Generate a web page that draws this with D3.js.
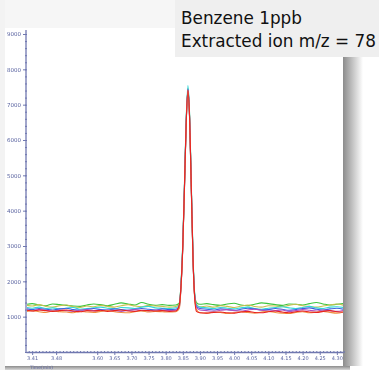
<!DOCTYPE html>
<html>
<head>
<meta charset="utf-8">
<script src="https://cdn.jsdelivr.net/npm/d3@7"></script>
<style>
  body { margin: 0; background: #ffffff; }
  #chart { width: 379px; height: 370px; overflow: hidden; }
</style>
</head>
<body>
<div id="chart"></div>
<script>
// retention time (min), shared by all traces
const timeValues = [3.395,3.41,3.43,3.45,3.47,3.49,3.51,3.53,3.55,3.57,3.59,3.61,3.63,3.65,3.67,3.69,3.71,3.73,3.75,3.77,3.79,3.81,
    3.83,3.84,3.845,3.85,3.855,3.86,3.865,3.87,3.875,3.88,3.885,3.89,
    3.90,3.92,3.94,3.96,3.98,4.00,4.02,4.04,4.06,4.08,4.10,4.12,4.14,4.16,4.18,4.20,4.22,4.24,4.26,4.28,4.30,4.32];

// abundance of m/z 78 for each replicate injection
const seriesGreen = [1350,1370,1330,1310,1360,1340,1320,1300,1290,1330,1360,1340,1310,1350,1390,1360,1330,1400,1350,1320,1340,1320,
    1330,1390,1960,3060,4760,6560,7460,6660,4660,2660,1610,1400,
    1350,1370,1340,1320,1360,1380,1330,1310,1350,1390,1370,1340,1320,1360,1350,1330,1370,1400,1360,1330,1350,1370];
const seriesOlive = [1320,1300,1340,1290,1270,1310,1330,1280,1260,1300,1280,1320,1290,1270,1310,1340,1300,1280,1320,1300,1290,1270,
    1290,1370,1930,3020,4720,6520,7420,6620,4620,2620,1580,1350,
    1280,1300,1270,1310,1290,1260,1300,1330,1290,1270,1310,1300,1280,1320,1350,1310,1290,1270,1300,1330,1360,1320];
const seriesCyan = [1260,1240,1270,1230,1250,1220,1240,1260,1210,1230,1250,1270,1240,1220,1260,1250,1230,1270,1290,1250,1240,1230,
    1250,1340,1980,3100,4800,6620,7540,6700,4700,2700,1620,1330,
    1270,1250,1230,1260,1240,1220,1250,1270,1230,1210,1240,1260,1280,1250,1230,1260,1290,1250,1230,1270,1280,1260];
const seriesBlue = [1220,1200,1230,1210,1190,1220,1240,1200,1180,1210,1230,1200,1190,1220,1200,1180,1210,1230,1210,1190,1220,1200,
    1210,1300,1900,3000,4700,6500,7440,6600,4600,2600,1560,1290,
    1230,1210,1190,1220,1200,1180,1210,1240,1220,1190,1200,1230,1210,1180,1200,1230,1250,1210,1190,1220,1240,1210];
const seriesPurple = [1190,1170,1200,1180,1160,1190,1170,1150,1180,1200,1170,1160,1190,1170,1150,1180,1200,1170,1160,1190,1180,1170,
    1180,1280,1880,2980,4680,6480,7430,6580,4580,2580,1540,1260,
    1190,1170,1150,1180,1200,1170,1160,1190,1210,1180,1160,1170,1190,1150,1170,1200,1180,1160,1190,1170,1150,1180];
const seriesOrange = [1150,1170,1140,1120,1160,1140,1130,1110,1150,1130,1120,1150,1170,1140,1120,1110,1140,1160,1130,1150,1140,1130,
    1140,1240,1850,2950,4650,6450,7400,6560,4560,2560,1500,1200,
    1110,1100,1130,1120,1090,1110,1140,1120,1100,1130,1150,1120,1100,1090,1120,1140,1110,1130,1150,1120,1100,1130];
const seriesRed = [1180,1160,1190,1170,1150,1170,1190,1160,1140,1170,1160,1180,1150,1170,1190,1160,1150,1180,1170,1160,1170,1150,
    1160,1350,1900,3000,4700,6500,7410,6600,4600,2600,1500,1150,
    1110,1100,1120,1130,1110,1100,1130,1150,1120,1110,1140,1160,1130,1110,1140,1160,1130,1120,1150,1170,1140,1130];

const seriesColors = ["#3cc43c", "#c8c050", "#30d8d8", "#4060e0", "#b050c0", "#f09040", "#e82020"];

// axis ticks
const xTickValues = [3.41,3.48,3.60,3.65,3.70,3.75,3.80,3.85,3.90,3.95,4.00,4.05,4.10,4.15,4.20,4.25,4.30];
const yTickValues = [1000,2000,3000,4000,5000,6000,7000,8000,9000];

const titleLines = ["Benzene 1ppb", "Extracted ion m/z = 78"];

class ChromVis {
    constructor(parentElement) {
        this.parentElement = parentElement;
        this.series = [seriesGreen, seriesOlive, seriesCyan, seriesBlue, seriesPurple, seriesOrange, seriesRed];
        this.initVis();
    }

    initVis() {
        let vis = this;

        vis.width = 379;
        vis.height = 370;
        vis.plot = {left: 26, right: 343, top: 34, bottom: 352};

        vis.svg = d3.select("#" + vis.parentElement).append("svg")
            .attr("width", vis.width)
            .attr("height", vis.height);

        let defs = vis.svg.append("defs");
        let shade = defs.append("linearGradient").attr("id", "shadeRight");
        shade.append("stop").attr("offset", "0%").attr("stop-color", "#8c8c8c");
        shade.append("stop").attr("offset", "100%").attr("stop-color", "#ffffff");
        let shadeB = defs.append("linearGradient").attr("id", "shadeBottom")
            .attr("x1", 0).attr("x2", 0).attr("y1", 0).attr("y2", 1);
        shadeB.append("stop").attr("offset", "0%").attr("stop-color", "#8c8c8c");
        shadeB.append("stop").attr("offset", "100%").attr("stop-color", "#d8d8d8");
        defs.append("filter").attr("id", "soft")
            .append("feGaussianBlur").attr("stdDeviation", 0.45);
        defs.append("clipPath").attr("id", "plotClip")
            .append("rect")
            .attr("x", vis.plot.left).attr("y", 0)
            .attr("width", vis.plot.right - vis.plot.left)
            .attr("height", vis.plot.bottom);

        // page + panel
        vis.svg.append("rect").attr("width", vis.width).attr("height", 30).attr("fill", "#f6f6f6");
        vis.svg.append("rect").attr("x", 0).attr("y", 0).attr("width", 5).attr("height", vis.height).attr("fill", "#f3f3f3");
        vis.svg.append("rect").attr("x", 343).attr("y", 28).attr("width", 20).attr("height", 338).attr("fill", "url(#shadeRight)");
        vis.svg.append("rect").attr("x", 5).attr("y", 366).attr("width", 345).attr("height", 4).attr("fill", "url(#shadeBottom)");
        vis.svg.append("rect").attr("x", 5).attr("y", 28).attr("width", 338).attr("height", 338).attr("fill", "#ffffff");

        vis.x = d3.scaleLinear().domain([3.392, 4.318]).range([vis.plot.left, vis.plot.right]);
        vis.y = d3.scaleLinear().domain([0, 9000]).range([vis.plot.bottom, vis.plot.top]);

        vis.g = vis.svg.append("g").attr("filter", "url(#soft)");

        vis.updateVis();
    }

    updateVis() {
        let vis = this;
        let axisColor = "#7078b0";

        // minor ticks
        vis.g.append("g")
            .attr("transform", `translate(${vis.plot.left},0)`)
            .call(d3.axisLeft(vis.y).tickValues(d3.range(0, 9200, 200)).tickSize(2).tickSizeOuter(0).tickFormat(""))
            .call(g => g.select(".domain").remove())
            .call(g => g.selectAll("line").attr("stroke", axisColor).attr("transform", "translate(1,0)"));
        vis.g.append("g")
            .attr("transform", `translate(0,${vis.plot.bottom})`)
            .call(d3.axisBottom(vis.x).tickValues(d3.range(3.40, 4.32, 0.01)).tickSize(2).tickSizeOuter(0).tickFormat(""))
            .call(g => g.select(".domain").remove())
            .call(g => g.selectAll("line").attr("stroke", axisColor).attr("transform", "translate(0,-1)"));

        // y axis
        vis.g.append("g")
            .attr("transform", `translate(${vis.plot.left},0)`)
            .call(d3.axisLeft(vis.y).tickValues(yTickValues).tickSize(3).tickPadding(2).tickSizeOuter(0).tickFormat(d3.format("d")))
            .call(g => g.select(".domain").attr("stroke", axisColor).attr("stroke-width", 1.3)
                .attr("d", `M0,30V${vis.plot.bottom}`))
            .call(g => g.selectAll("line").attr("stroke", axisColor))
            .call(g => g.selectAll("text").attr("fill", "#5a64a0").style("font-family", "DejaVu Sans").style("font-size", "5.5px"));

        // x axis
        vis.g.append("g")
            .attr("transform", `translate(0,${vis.plot.bottom})`)
            .call(d3.axisBottom(vis.x).tickValues(xTickValues).tickSize(3).tickPadding(1).tickSizeOuter(0).tickFormat(d3.format(".2f")))
            .call(g => g.select(".domain").attr("stroke", axisColor).attr("stroke-width", 1.3))
            .call(g => g.selectAll("line").attr("stroke", axisColor))
            .call(g => g.selectAll("text").attr("fill", "#5a64a0").style("font-family", "DejaVu Sans").style("font-size", "5px"));

        vis.g.append("text")
            .attr("x", 30).attr("y", 368.5)
            .attr("fill", "#5a64a0")
            .style("font-family", "DejaVu Sans").style("font-size", "4.5px")
            .text("Time(min)");

        // traces
        let line = d3.line()
            .x((d, i) => vis.x(timeValues[i]))
            .y(d => vis.y(d))
            .curve(d3.curveMonotoneX);

        vis.g.append("g")
            .attr("clip-path", "url(#plotClip)")
            .selectAll(".trace")
            .data(vis.series)
            .enter()
            .append("path")
            .attr("class", "trace")
            .attr("d", line)
            .attr("fill", "none")
            .attr("stroke", (d, i) => seriesColors[i])
            .attr("stroke-width", 1.1);

        // title box
        vis.svg.append("rect")
            .attr("x", 175).attr("y", 0).attr("width", 204).attr("height", 57)
            .attr("fill", "#efefef");

        let title = vis.svg.selectAll(".title")
            .data(titleLines)
            .enter()
            .append("text")
            .attr("class", "title")
            .attr("x", 181)
            .attr("y", (d, i) => 24 + i * 23)
            .attr("fill", "#111111")
            .style("font-family", "DejaVu Sans")
            .style("font-size", "18px")
            .text(d => d);

        // fit second line to its width in the picture
        let w = title.nodes()[1].getComputedTextLength();
        title.style("font-size", (18 * 195 / w).toFixed(2) + "px");
    }
}

new ChromVis("chart");
</script>
</body>
</html>
